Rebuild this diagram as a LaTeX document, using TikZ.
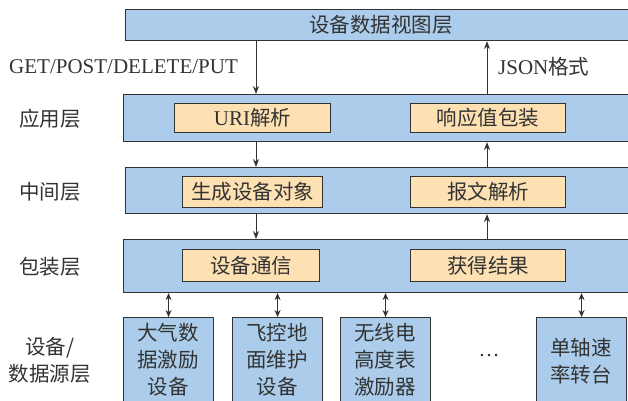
\documentclass[tikz,border=0pt]{standalone}
\usepackage{fontspec}
\setmainfont{Liberation Serif}
\newfontfamily\cjk{Noto Sans CJK SC}
\usetikzlibrary{arrows.meta}
\definecolor{layerblue}{HTML}{ABCDEB}
\definecolor{boxorange}{HTML}{FDE1B3}
\definecolor{edge}{HTML}{333333}
\begin{document}
\begin{tikzpicture}[x=1pt,y=-1pt,
  layer/.style={draw=edge,line width=1.1pt,fill=layerblue,anchor=north west,inner sep=0pt},
  func/.style={draw=edge,line width=1pt,fill=boxorange,anchor=north west,inner sep=0pt},
  dev/.style={draw=edge,line width=1.1pt,fill=layerblue,anchor=north west,inner sep=0pt},
  txt/.style={text=edge,font=\fontsize{20.5}{20.5}\selectfont\cjk,inner sep=0pt},
  ltxt/.style={text=edge,font=\fontsize{21}{21}\selectfont,inner sep=0pt},
  devtxt/.style={text=edge,font=\fontsize{20.5}{27}\selectfont\cjk,align=center,inner sep=0pt},
  arr/.style={draw=edge,line width=0.9pt,-{Stealth[length=8pt,width=6pt]}},
  darr/.style={draw=edge,line width=0.9pt,{Stealth[length=7pt,width=6pt]}-{Stealth[length=7pt,width=6pt]}}
]
\useasboundingbox (0,0) rectangle (628,400);
% layers
\node[layer,minimum width=504pt,minimum height=31pt] (top) at (125,9) {};
\node[layer,minimum width=506pt,minimum height=47pt] (app) at (123,94) {};
\node[layer,minimum width=504pt,minimum height=46pt] (mid) at (125,167) {};
\node[layer,minimum width=506pt,minimum height=53pt] (pack) at (123,239) {};
\node[txt] (toptxt) at (381,25) {设备数据视图层};
% function boxes
\node[func,minimum width=156pt,minimum height=29pt] (uri) at (174,103) {};
\node[txt] at (uri.center) {{\rmfamily\fontsize{21}{21}\selectfont URI}解析};
\node[func,minimum width=155pt,minimum height=29pt] (resp) at (410,103) {};
\node[txt] at (resp.center) {响应值包装};
\node[func,minimum width=140pt,minimum height=31pt] (gen) at (182,176) {};
\node[txt] at (gen.center) {生成设备对象};
\node[func,minimum width=155pt,minimum height=31pt] (msg) at (410,176) {};
\node[txt] at (msg.center) {报文解析};
\node[func,minimum width=137pt,minimum height=32pt] (comm) at (182,249) {};
\node[txt] at (comm.center) {设备通信};
\node[func,minimum width=155pt,minimum height=32pt] (res) at (410,249) {};
\node[txt] at (res.center) {获得结果};
% layer labels
\node[txt] (l1) at (50,119) {应用层};
\node[txt] (l2) at (50,192) {中间层};
\node[txt] (l3) at (50,267) {包装层};
\node[devtxt] (l4) at (50,360) {设备/\\数据源层};
% arrow labels
\node[ltxt,anchor=west] (get) at (9,67) {GET/POST/DELETE/PUT};
\node[ltxt,anchor=west] (json) at (498,67) {JSON{\cjk\fontsize{20.5}{20.5}\selectfont 格式}};
% arrow columns
\coordinate (ax) at (256,0);
\coordinate (bx) at (487,0);
\draw[arr] (top.south -| ax) -- (app.north -| ax);
\draw[arr] (app.south -| ax) -- (mid.north -| ax);
\draw[arr] (mid.south -| ax) -- (pack.north -| ax);
\draw[arr] (pack.north -| bx) -- (mid.south -| bx);
\draw[arr] (mid.north -| bx) -- (app.south -| bx);
\draw[arr] (app.north -| bx) -- (top.south -| bx);
% devices
\node[dev,minimum width=90pt,minimum height=90pt] (d1) at (123,317) {};
\node[dev,minimum width=90pt,minimum height=90pt] (d2) at (232,317) {};
\node[dev,minimum width=90pt,minimum height=90pt] (d3) at (340,317) {};
\node[dev,minimum width=90pt,minimum height=90pt] (d4) at (536,317) {};
\node[devtxt] at (168,360) {大气数\\据激励\\设备};
\node[devtxt] at (277,360) {飞控地\\面维护\\设备};
\node[devtxt] at (385,360) {无线电\\高度表\\激励器};
\node[devtxt] at (581,361) {单轴速\\率转台};
\node[ltxt] (dots) at (489,356) {…};
\draw[darr] (pack.south -| d1.north) -- (d1.north);
\draw[darr] (pack.south -| d2.north) -- (d2.north);
\draw[darr] (pack.south -| d3.north) -- (d3.north);
\draw[darr] (pack.south -| d4.north) -- (d4.north);
\end{tikzpicture}
\end{document}
